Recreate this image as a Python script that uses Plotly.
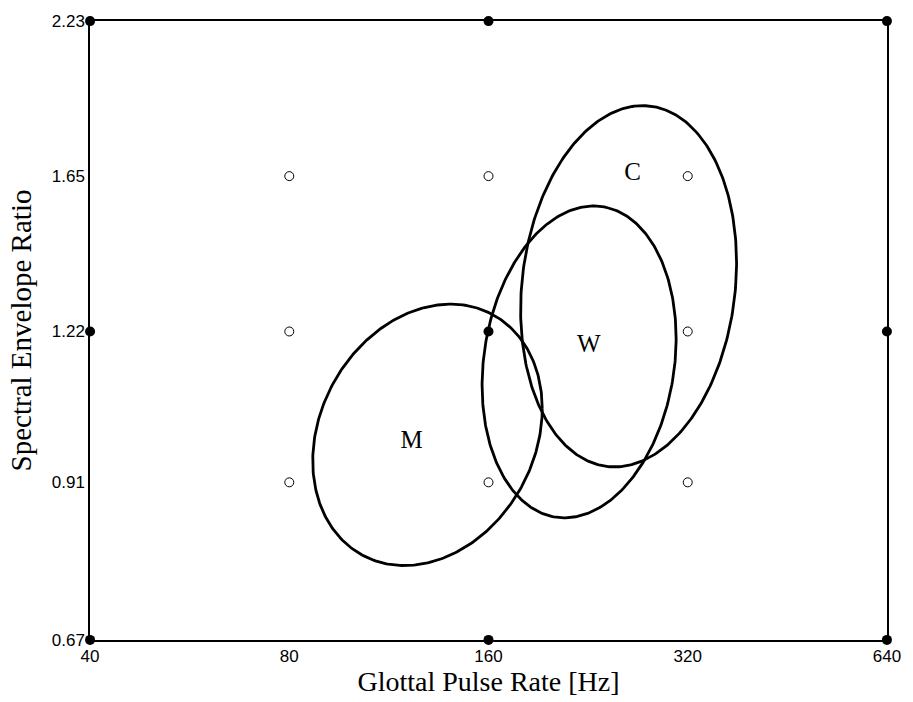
import numpy as np
import plotly.graph_objects as go

# ---- data ----
x_ticks = [40, 80, 160, 320, 640]
y_ticks = [0.67, 0.91, 1.22, 1.65, 2.23]
y_tick_text = ["0.67", "0.91", "1.22", "1.65", "2.23"]

filled_x = [40, 160, 640, 40, 160, 640, 40, 160, 640]
filled_y = [0.67, 0.67, 0.67, 1.22, 1.22, 1.22, 2.23, 2.23, 2.23]
open_x = [80, 160, 320, 80, 320, 80, 160, 320]
open_y = [0.91, 0.91, 0.91, 1.22, 1.22, 1.65, 1.65, 1.65]

# ellipse parameters: centre (Hz, ratio), half-extent (octaves, ln units), correlation
ell_names = ["M", "W", "C"]
ell_cx = [129.4, 219.3, 260.5]
ell_cy = [0.998, 1.150, 1.332]
ell_rx_oct = [0.576, 0.487, 0.542]
ell_ry_ln = [0.254, 0.303, 0.351]
ell_rho = [0.20, 0.15, 0.13]

label_x = [122.5, 226.9, 264.1]
label_y = [0.984, 1.186, 1.657]

fig = go.Figure()

t = np.linspace(0, 2 * np.pi, 361)
for cx, cy, rx, ry, rho in zip(ell_cx, ell_cy, ell_rx_oct, ell_ry_ln, ell_rho):
    phi = np.arccos(rho)
    ex = cx * 2 ** (rx * np.cos(t))
    ey = cy * np.exp(ry * np.cos(t - phi))
    fig.add_trace(go.Scatter(x=ex, y=ey, mode="lines",
                             line=dict(color="black", width=2.8),
                             hoverinfo="skip", showlegend=False))

fig.add_trace(go.Scatter(x=open_x, y=open_y, mode="markers",
                         marker=dict(symbol="circle", size=9, color="white",
                                     line=dict(color="black", width=1)),
                         showlegend=False))
fig.add_trace(go.Scatter(x=filled_x, y=filled_y, mode="markers",
                         marker=dict(symbol="circle", size=10, color="black"),
                         cliponaxis=False, showlegend=False))

fig.add_trace(go.Scatter(x=label_x, y=label_y, mode="text", text=ell_names,
                         textfont=dict(family="Liberation Serif", size=25, color="black"),
                         showlegend=False))

eps = 1e-4
fig.update_layout(
    width=913, height=702,
    margin=dict(l=90, r=18, t=18, b=61),
    paper_bgcolor="white", plot_bgcolor="white",
    showlegend=False,
)
fig.update_xaxes(
    type="log", range=[np.log10(40) - eps, np.log10(640) + eps],
    tickvals=x_ticks, ticktext=[str(v) for v in x_ticks],
    showgrid=False, zeroline=False,
    showline=True, mirror=True, linecolor="black", linewidth=1.5,
    ticks="", tickfont=dict(family="Liberation Sans", size=17, color="black"),
    title=dict(text="Glottal Pulse Rate [Hz]", standoff=4,
               font=dict(family="Liberation Serif", size=28, color="black")),
)
fig.update_yaxes(
    type="log", range=[np.log10(0.67) - eps, np.log10(2.23) + eps],
    tickvals=y_ticks, ticktext=y_tick_text,
    showgrid=False, zeroline=False,
    showline=True, mirror=True, linecolor="black", linewidth=1.5,
    ticks="", ticklabelstandoff=0,
    tickfont=dict(family="Liberation Sans", size=17, color="black"),
    title=dict(text="Spectral Envelope Ratio", standoff=12,
               font=dict(family="Liberation Serif", size=29, color="black")),
)

fig.write_html("out.html")
